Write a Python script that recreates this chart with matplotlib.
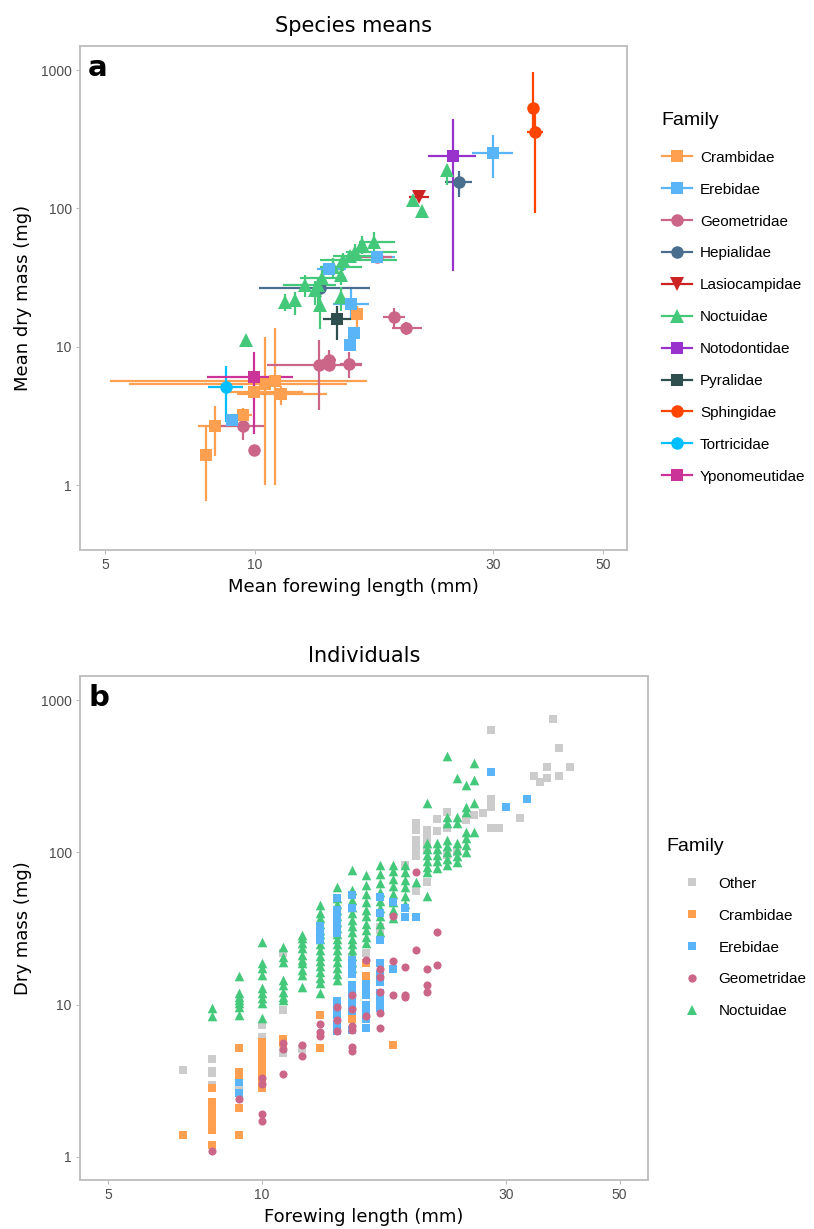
import matplotlib
matplotlib.use("Agg")
import matplotlib.pyplot as plt
from matplotlib.lines import Line2D
import numpy as np

# ---------------- Panel a: species means ----------------
a_family = (["Crambidae"] * 8 + ["Erebidae"] * 7 + ["Geometridae"] * 9 +
            ["Hepialidae"] * 2 + ["Lasiocampidae"] + ["Noctuidae"] * 19 +
            ["Notodontidae"] + ["Pyralidae"] + ["Sphingidae"] * 2 +
            ["Tortricidae"] + ["Yponomeutidae"])
a_x = [7.97, 8.31, 9.46, 9.95, 10.47, 10.97, 11.26, 16.0,
       8.98, 14.1, 15.6, 15.8, 15.5, 17.6, 30.1,
       9.46, 9.95, 13.45, 14.04, 14.1, 15.4, 19.0, 20.1, 17.6,
       25.7, 13.5,
       21.3,
       9.6, 24.3, 20.7, 21.6, 17.3, 16.4, 15.9, 15.0, 15.5, 14.3, 14.9, 13.6, 13.4, 12.6, 13.2, 12.0, 11.5, 14.9, 13.5,
       25.0,
       14.6,
       36.2, 36.4,
       8.74,
       9.95]
a_y = [1.65, 2.67, 3.21, 4.70, 5.40, 5.65, 4.55, 17.2,
       2.95, 36.3, 20.4, 12.5, 10.3, 44.8, 253,
       2.69, 1.79, 7.37, 8.0, 7.4, 7.5, 16.3, 13.6, 44.3,
       154, 26.5,
       121.5,
       11.2, 190, 116, 96.2, 57.0, 55.3, 48.7, 42.4, 45.0, 37.9, 33.0, 31.2, 27.9, 27.9, 25.7, 21.8, 21.2, 23.0, 20.0,
       239,
       15.8,
       529, 358,
       5.14,
       6.07]
a_xlo = [7.8, 7.68, 8.99, 8.66, 5.58, 5.11, 9.2, 15.7,
         8.8, 13.3, 14.3, 15.5, 15.2, 16.2, 27.3,
         8.51, 9.95, 10.55, 13.6, 13.7, 14.8, 18.1, 18.8, 16.0,
         24.0, 10.2,
         20.4,
         9.6, 24.3, 20.7, 21.6, 16.2, 16.4, 15.2, 13.5, 14.3, 13.5, 14.9, 12.3, 13.4, 11.4, 13.2, 12.0, 11.5, 14.9, 13.5,
         22.2,
         13.7,
         36.0, 35.1,
         8.05,
         8.02]
a_xhi = [8.1, 8.99, 9.86, 12.5, 15.3, 16.8, 13.95, 16.3,
         9.2, 15.2, 16.9, 16.1, 15.8, 19.1, 32.9,
         10.42, 9.95, 16.4, 14.5, 14.5, 16.4, 20.0, 21.6, 18.8,
         27.3, 17.0,
         22.3,
         9.6, 24.3, 20.7, 21.6, 19.1, 16.4, 19.3, 19.3, 17.8, 16.4, 14.9, 15.2, 13.4, 14.5, 13.2, 12.0, 11.5, 14.9, 13.5,
         27.8,
         15.6,
         36.4, 37.9,
         9.47,
         11.9]
a_ylo = [0.77, 1.62, 2.58, 4.1, 1.0, 1.0, 3.79, 13.2,
         2.7, 34, 15.6, 11.5, 9.6, 42, 167,
         2.12, 1.65, 3.48, 7.0, 6.8, 5.9, 14.0, 12.2, 41,
         120, 25.3,
         115,
         11.2, 148, 110, 90, 48, 47, 42, 35, 42, 32, 28, 26, 19, 23, 20, 17, 18, 18, 13.5,
         35.4,
         11.2,
         360, 92.2,
         2.87,
         2.34]
a_yhi = [2.63, 3.73, 3.6, 5.2, 11.75, 13.6, 5.2, 19.7,
         3.2, 39, 26, 13.5, 11, 48, 340,
         3.04, 1.95, 11.2, 9.4, 8.0, 9.2, 19.2, 15.2, 47,
         188, 28,
         128,
         11.2, 206, 122, 102, 67, 63, 55, 48, 48, 44, 38, 36, 32, 33, 30, 25, 24, 27, 25,
         440,
         19.7,
         973, 529,
         7.25,
         9.2]

a_families = ["Crambidae", "Erebidae", "Geometridae", "Hepialidae", "Lasiocampidae",
              "Noctuidae", "Notodontidae", "Pyralidae", "Sphingidae", "Tortricidae",
              "Yponomeutidae"]

# ---------------- Panel b: individuals (forewing length mm -> dry masses mg) ----------------
b_other = {7: [3.71], 8: [4.4, 3.69, 3.55, 2.97], 9: [2.9], 10: [7.36, 6.1],
           11: [21.8, 9.2, 4.8], 12: [5.1], 15: [20.6], 16: [22], 17: [32.6, 31],
           19: [82.6], 20: [155, 140, 121, 110, 100, 94, 56], 21: [140, 127, 115, 104, 64],
           22: [166, 139], 23: [185, 144, 96], 24: [101], 25: [163], 26: [175], 27: [182],
           28: [636, 224, 200, 144], 29: [144], 32: [169], 34: [315], 35: [291],
           36: [366, 306], 37: [751], 38: [483, 319], 40: [363]}
b_crambidae = {7: [1.39], 8: [2.83, 2.3, 2.1, 1.95, 1.8, 1.65, 1.5, 1.19],
               9: [5.2, 3.63, 3.45, 2.11, 1.39],
               10: [5.7, 5.2, 4.8, 4.4, 4.0, 3.7, 3.4, 3.1, 2.83],
               11: [5.94, 5.6], 13: [8.6, 5.2], 15: [8.1], 16: [18.7, 15.4], 18: [5.4]}
b_erebidae = {9: [3.13, 2.62], 13: [33, 30, 26.6],
              14: [50, 42, 40, 36, 31.7, 29.6, 10.5, 9.5, 8.5, 7.5, 6.7],
              15: [52.5, 42.9, 19.6, 17.5, 16, 13.5, 12, 11, 10, 9, 8.2, 6.8],
              16: [14.5, 13, 11.5, 10, 9, 8, 7.0],
              17: [51, 40, 26.6, 18.7, 16, 14, 12, 10.5, 9.5],
              18: [47, 17.1], 19: [43, 37.5], 20: [37.9], 28: [339], 30: [200], 33: [223]}
b_geometridae = {8: [1.10], 9: [2.39], 10: [3.29, 3.0, 1.91, 1.71], 11: [5.6, 5.1, 3.5],
                 12: [5.4, 4.6], 13: [7.44, 6.65, 6.2], 14: [9.7, 7.9, 6.7],
                 15: [11.6, 9.4, 7.2, 6.8, 5.3, 5.0], 16: [19.6, 8.4],
                 17: [17.1, 15.1, 12.2, 8.85, 7.0], 18: [38.2, 19.4, 11.6],
                 19: [17.7, 11.6, 11.3], 20: [74, 23], 21: [17.1, 13.5, 12.2], 22: [30, 18.2]}
b_noctuidae = {8: [9.47, 8.47], 9: [15.4, 11.9, 11.2, 10.7, 10.2, 9.6, 8.5],
               10: [25.7, 18.7, 17.3, 15.7, 12.8, 11.9, 11.0, 10.2, 8.2],
               11: [24.0, 20.7, 19.2, 14.6, 13.5, 12.2, 11.3, 10.7],
               12: [28.7, 27.3, 25.3, 23.4, 21.2, 19.6, 18.7, 16.9, 15.7, 13.0],
               13: [45, 40, 37, 34, 31, 29, 27, 25, 23, 21, 19.5, 18, 16.5, 15, 13.8, 12.0],
               14: [59.5, 50, 46, 42, 38, 35, 32, 29, 27, 25, 23, 21, 19, 17.5, 16, 14.5],
               15: [76.5, 56.5, 48.6, 44, 40, 36, 33, 30, 27, 25, 23, 21, 19, 17.4],
               16: [71, 61, 53, 47, 42, 38, 34, 31, 28, 25.4],
               17: [83, 72, 63, 55, 48, 43, 38, 34, 30.2],
               18: [83, 75, 67, 60, 53, 47, 42, 37],
               19: [83, 74, 66, 59, 52, 46], 20: [64],
               21: [210, 115, 105, 96, 88, 80, 74, 51.5],
               22: [115, 105, 96, 88, 79],
               23: [430, 172, 155, 121, 110, 100, 91, 83],
               24: [306, 172, 155, 115, 103, 95, 87],
               25: [277, 200, 185, 137, 125, 112, 101],
               26: [385, 299, 212, 137]}

colors = {"Crambidae": "#FFA050", "Erebidae": "#5AB4F8", "Geometridae": "#CC6688",
          "Hepialidae": "#4A6E8E", "Lasiocampidae": "#CC2222", "Noctuidae": "#44C87A",
          "Notodontidae": "#9932CC", "Pyralidae": "#2F4F4F", "Sphingidae": "#FF4500",
          "Tortricidae": "#00BFFF", "Yponomeutidae": "#CC3399", "Other": "#CCCCCC"}
markers = {"Crambidae": "s", "Erebidae": "s", "Geometridae": "o", "Hepialidae": "o",
           "Lasiocampidae": "v", "Noctuidae": "^", "Notodontidae": "s", "Pyralidae": "s",
           "Sphingidae": "o", "Tortricidae": "o", "Yponomeutidae": "s", "Other": "s"}
a_zorder = {"Hepialidae": 3.0, "Geometridae": 3.1, "Noctuidae": 3.5}

W, H = 814, 1229
fig = plt.figure(figsize=(W / 100, H / 100), dpi=100)
fig.patch.set_facecolor("white")

def px_axes(l, t, r, b):
    return fig.add_axes([l / W, 1 - b / H, (r - l) / W, (b - t) / H])

def style(ax):
    ax.set_xscale("log")
    ax.set_yscale("log")
    for s in ax.spines.values():
        s.set_color("#BDBDBD")
        s.set_linewidth(1.3)
    ax.set_xticks([5, 10, 30, 50])
    ax.set_xticklabels(["5", "10", "30", "50"])
    ax.set_yticks([1, 10, 100, 1000])
    ax.set_yticklabels(["1", "10", "100", "1000"])
    ax.minorticks_off()
    ax.tick_params(axis="both", which="major", length=3, width=0.8, color="#BDBDBD",
                   labelsize=10, labelcolor="#4D4D4D", pad=3)
    for lab in ax.get_xticklabels() + ax.get_yticklabels():
        lab.set_fontfamily("Liberation Sans")

def make_legend(handles, labels, x_px, y_px, spacing, hlen, hpad, extra_sep):
    leg = fig.legend(handles, labels, loc="upper left",
                     bbox_to_anchor=(x_px / W, 1 - y_px / H), frameon=False, title="Family",
                     prop={"family": "Liberation Sans", "size": 11},
                     title_fontproperties={"family": "Liberation Sans", "size": 14},
                     labelspacing=spacing, handlelength=hlen, handletextpad=hpad,
                     borderpad=0.4)
    leg._legend_box.align = "left"
    leg._legend_box.sep = spacing * 11 + extra_sep
    return leg

# ---- panel a
axa = px_axes(80, 46, 627, 550)
style(axa)
axa.set_xlim(4.45, 55.8)
axa.set_ylim(0.339, 1494)

ax_arr = np.array(a_x); ay_arr = np.array(a_y)
xlo = np.array(a_xlo); xhi = np.array(a_xhi)
ylo = np.array(a_ylo); yhi = np.array(a_yhi)
fam_arr = np.array(a_family)
for fam in a_families:
    m = fam_arr == fam
    axa.errorbar(ax_arr[m], ay_arr[m],
                 xerr=[ax_arr[m] - xlo[m], xhi[m] - ax_arr[m]],
                 yerr=[ay_arr[m] - ylo[m], yhi[m] - ay_arr[m]],
                 fmt="none", ecolor=colors[fam], elinewidth=1.6, capsize=0, zorder=2)
for fam in a_families:
    m = fam_arr == fam
    ms = 10.5 if markers[fam] in ("^", "v") else 9
    axa.plot(ax_arr[m], ay_arr[m], linestyle="none", marker=markers[fam], ms=ms,
             color=colors[fam], markeredgewidth=0, zorder=a_zorder.get(fam, 4))

axa.set_title("Species means", fontsize=15, pad=10, family="DejaVu Sans")
axa.set_xlabel("Mean forewing length (mm)", fontsize=13, family="DejaVu Sans", labelpad=4)
axa.set_ylabel("Mean dry mass (mg)", fontsize=13, family="DejaVu Sans", labelpad=6)
axa.text(0.015, 0.985, "a", transform=axa.transAxes, fontsize=21, fontweight="bold",
         va="top", ha="left", family="DejaVu Sans")

handles_a = [Line2D([0], [0], color=colors[f], marker=markers[f], lw=1.6,
                    ms=(10.5 if markers[f] in ("^", "v") else 9), markeredgewidth=0)
             for f in a_families]
make_legend(handles_a, a_families, 648, 98, 1.17, 2.0, 0.5, 3)

# ---- panel b
axb = px_axes(80, 676, 648, 1180)
style(axb)
axb.set_xlim(4.41, 56.8)
axb.set_ylim(0.706, 1439)

b_order = [("Other", b_other), ("Noctuidae", b_noctuidae), ("Erebidae", b_erebidae),
           ("Crambidae", b_crambidae), ("Geometridae", b_geometridae)]
for fam, dd in b_order:
    xs = [k for k, vals in dd.items() for _ in vals]
    ys = [v for vals in dd.values() for v in vals]
    size = 48 if fam == "Noctuidae" else 34
    axb.scatter(xs, ys, marker=markers[fam], s=size, color=colors[fam], linewidths=0,
                zorder=3)

axb.set_title("Individuals", fontsize=15, pad=10, family="DejaVu Sans")
axb.set_xlabel("Forewing length (mm)", fontsize=13, family="DejaVu Sans", labelpad=4)
axb.set_ylabel("Dry mass (mg)", fontsize=13, family="DejaVu Sans", labelpad=6)
axb.text(0.015, 0.985, "b", transform=axb.transAxes, fontsize=21, fontweight="bold",
         va="top", ha="left", family="DejaVu Sans")

b_leg_fams = ["Other", "Crambidae", "Erebidae", "Geometridae", "Noctuidae"]
handles_b = [Line2D([0], [0], color=colors[f], marker=markers[f], lw=0,
                    ms=(7 if f == "Noctuidae" else 6), markeredgewidth=0)
             for f in b_leg_fams]
make_legend(handles_b, b_leg_fams, 653, 824, 1.17, 3.3, 0.1, 3)

fig.savefig("out.png", dpi=100, facecolor="white")
